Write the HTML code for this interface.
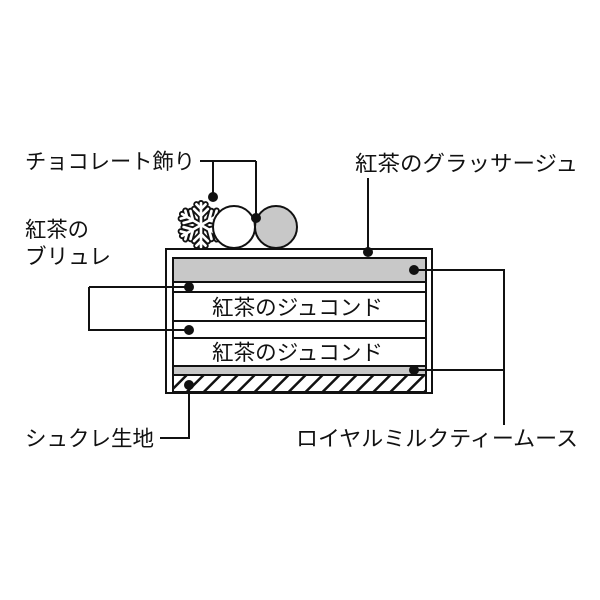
<!DOCTYPE html>
<html><head><meta charset="utf-8"><style>body{margin:0;background:#fff}svg{display:block}text{font-family:"Liberation Sans","Noto Sans CJK JP",sans-serif;fill:#111}</style></head><body>
<svg width="600" height="600" viewBox="0 0 600 600">
<defs><pattern id="h" width="12" height="12" patternUnits="userSpaceOnUse" patternTransform="rotate(45)"><rect width="12" height="12" fill="#fff"/><rect width="2.5" height="12" fill="#111"/></pattern>
<g id="arm"><path d="M0 0V-19M0 -8L-6 -14M0 -8L6 -14M0 -14L-4 -18M0 -14L4 -18"/></g></defs>
<g stroke="#111" stroke-width="2" fill="none">
<rect x="166" y="249" width="266" height="144" fill="#fff"/>
<rect x="173" y="258" width="253" height="24" fill="#c8c8c8"/>
<rect x="173" y="282" width="253" height="10" fill="#fff"/>
<rect x="173" y="292" width="253" height="29" fill="#fff"/>
<rect x="173" y="321" width="253" height="17" fill="#fff"/>
<rect x="173" y="338" width="253" height="28" fill="#fff"/>
<rect x="173" y="366" width="253" height="9" fill="#c8c8c8"/>
<rect x="173" y="375" width="253" height="17" fill="url(#h)"/>
<circle cx="276" cy="227" r="21" fill="#c8c8c8"/>
<g transform="translate(201 225) scale(1.15)" stroke-linecap="round" stroke-linejoin="round">
<g stroke-width="5.5"><use href="#arm"/><use href="#arm" transform="rotate(60)"/><use href="#arm" transform="rotate(120)"/><use href="#arm" transform="rotate(180)"/><use href="#arm" transform="rotate(240)"/><use href="#arm" transform="rotate(300)"/></g>
<g stroke="#fff" stroke-width="2.3"><use href="#arm"/><use href="#arm" transform="rotate(60)"/><use href="#arm" transform="rotate(120)"/><use href="#arm" transform="rotate(180)"/><use href="#arm" transform="rotate(240)"/><use href="#arm" transform="rotate(300)"/></g>
</g>
<circle cx="234" cy="227" r="21" fill="#fff"/>
<path d="M200 161H256M213 161V197M256 161V218"/>
<path d="M368 178V252"/>
<path d="M89 287H189M89 287V330H189"/>
<path d="M414 270H504V425M414 370H504"/>
<path d="M189 385V438H160"/>
</g>
<g fill="#111">
<circle cx="213" cy="197" r="5"/><circle cx="256" cy="218" r="5"/><circle cx="368" cy="252" r="5"/>
<circle cx="189" cy="287" r="5"/><circle cx="189" cy="330" r="5"/><circle cx="414" cy="270" r="5"/>
<circle cx="414" cy="370" r="5"/><circle cx="189" cy="385" r="5"/>
</g>
<g font-size="21.5">
<text x="25" y="169" textLength="170" lengthAdjust="spacingAndGlyphs">チョコレート飾り</text>
<text x="355" y="171" textLength="223" lengthAdjust="spacingAndGlyphs">紅茶のグラッサージュ</text>
<text x="25" y="237" textLength="64" lengthAdjust="spacingAndGlyphs">紅茶の</text>
<text x="25" y="264" textLength="86" lengthAdjust="spacingAndGlyphs">ブリュレ</text>
<text x="25" y="446" textLength="129" lengthAdjust="spacingAndGlyphs">シュクレ生地</text>
<text x="296" y="446" textLength="282" lengthAdjust="spacingAndGlyphs">ロイヤルミルクティームース</text>
<text x="212" y="315" textLength="171" lengthAdjust="spacingAndGlyphs">紅茶のジュコンド</text>
<text x="212" y="360" textLength="171" lengthAdjust="spacingAndGlyphs">紅茶のジュコンド</text>
</g>
</svg>
</body></html>
